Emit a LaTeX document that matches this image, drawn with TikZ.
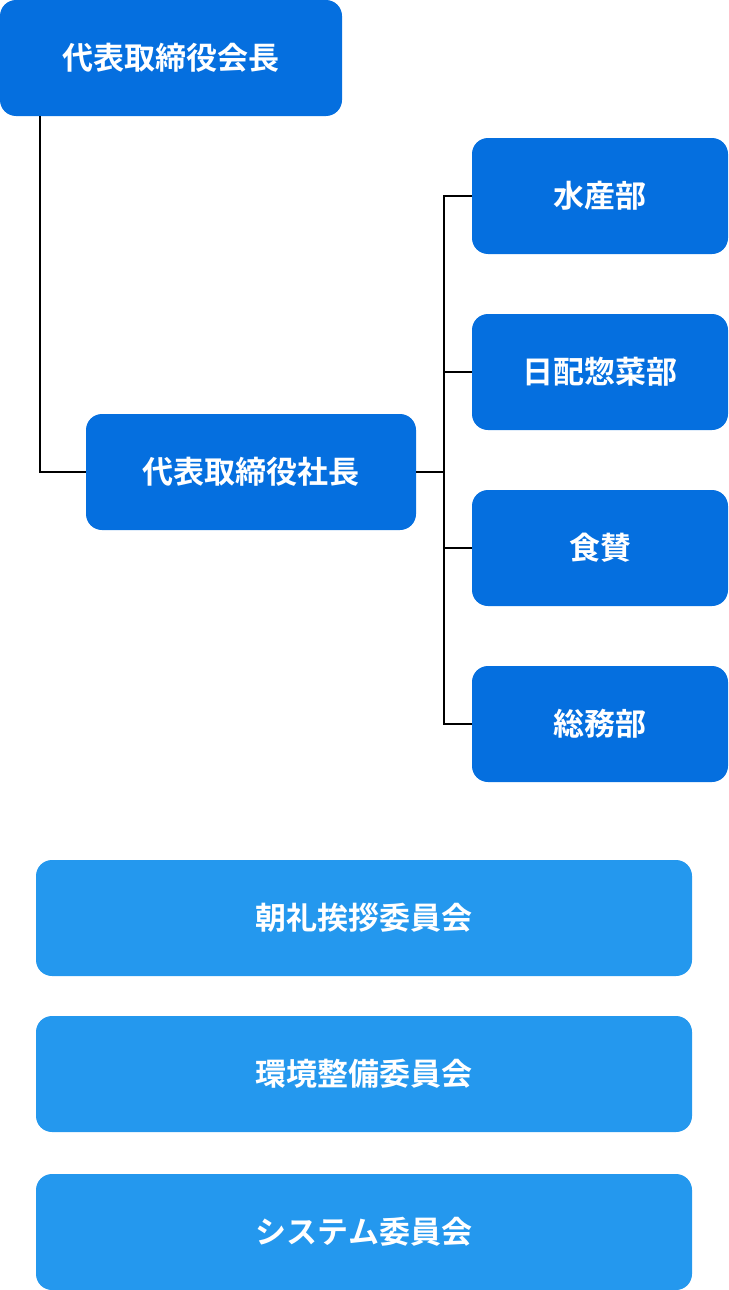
\documentclass[tikz,border=0pt]{standalone}
\usepackage{fontspec}
\newfontfamily\cjk{Noto Sans CJK JP}[BoldFont={* Bold}]
\definecolor{darkblue}{HTML}{056FDF}
\definecolor{lightblue}{HTML}{2498EE}
\tikzset{
  box/.style={fill=darkblue,rounded corners=16pt,text=white,font=\cjk\bfseries\fontsize{31}{36}\selectfont,inner sep=0pt},
  dept/.style={box,minimum width=256pt,minimum height=116pt},
  cmte/.style={box,fill=lightblue,minimum width=656pt,minimum height=116pt},
  link/.style={black,line width=1.5pt}
}
\begin{document}
\begin{tikzpicture}[x=1pt,y=-1pt]
\useasboundingbox (0,0) rectangle (728,1290);
% management
\node[box,minimum width=342pt,minimum height=116pt] (chair) at (171,58) {代表取締役会長};
\node[box,minimum width=330pt,minimum height=116pt] (pres) at (251,472) {代表取締役社長};
% departments
\node[dept] (suisan) at (600,196) {水産部};
\node[dept] (souzai) at (600,372) {日配惣菜部};
\node[dept] (shokusan) at (600,548) {食賛};
\node[dept] (soumu) at (600,724) {総務部};
% committees
\node[cmte] (chorei) at (364,918) {朝礼挨拶委員会};
\node[cmte] (kankyo) at (364,1074) {環境整備委員会};
\node[cmte] (system) at (364,1232) {システム委員会};
% connectors
\draw[link] (chair.south west) ++(40,0) |- (pres.west);
\foreach \d in {suisan,souzai,shokusan,soumu}
  \draw[link] (pres.east) -- ++(28,0) |- (\d.west);
\end{tikzpicture}
\end{document}
